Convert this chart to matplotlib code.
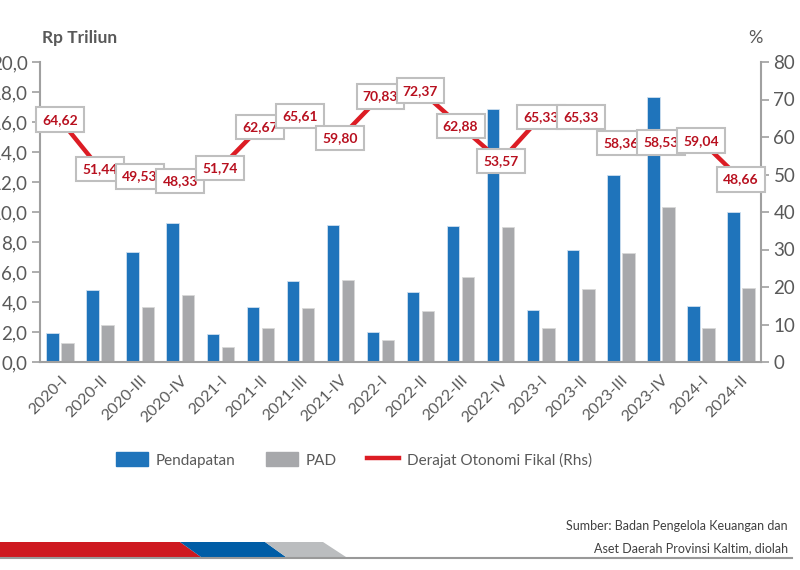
import matplotlib
matplotlib.use("Agg")
import matplotlib.pyplot as plt
import matplotlib.patches as mpatches
from matplotlib.lines import Line2D
import numpy as np

plt.rcParams['font.family'] = ['Lato', 'DejaVu Sans']

categories = ["2020-I", "2020-II", "2020-III", "2020-IV",
              "2021-I", "2021-II", "2021-III", "2021-IV",
              "2022-I", "2022-II", "2022-III", "2022-IV",
              "2023-I", "2023-II", "2023-III", "2023-IV",
              "2024-I", "2024-II"]
pendapatan = [1.91, 4.80, 7.35, 9.29, 1.85, 3.65, 5.42, 9.13, 2.02, 4.69,
              9.05, 16.85, 3.47, 7.49, 12.47, 17.69, 3.75, 10.02]
pad = [1.25, 2.47, 3.65, 4.47, 0.98, 2.29, 3.58, 5.47, 1.45, 3.40,
       5.69, 9.02, 2.25, 4.89, 7.29, 10.35, 2.25, 4.91]
derajat = [64.62, 51.44, 49.53, 48.33, 51.74, 62.67, 65.61, 59.80, 70.83,
           72.37, 62.88, 53.57, 65.33, 65.33, 58.36, 58.53, 59.04, 48.66]
left_ticks = [0, 2, 4, 6, 8, 10, 12, 14, 16, 18, 20]
right_ticks = [0, 10, 20, 30, 40, 50, 60, 70, 80]

BLUE = "#1F74BB"
GRAY = "#A7A8AB"
RED = "#DC1C24"
LABEL_RED = "#B8101F"
AXIS_GRAY = "#A0A0A0"
TEXT_GRAY = "#595959"

fig = plt.figure(figsize=(8, 5.7), dpi=100)
ax = fig.add_axes([40/800, 1-362/570, (761-40)/800, 300/570])
ax2 = ax.twinx()

x = np.arange(len(categories))
w = 0.31
ax.bar(x - 0.187, pendapatan, width=w, color=BLUE, edgecolor="#CFE0F0", linewidth=0.6, zorder=2)
ax.bar(x + 0.19, pad, width=w, color=GRAY, edgecolor="#D8D8D8", linewidth=0.6, zorder=2)

ax.set_xlim(-0.5, len(categories) - 0.5)
ax.set_ylim(0, 20)
ax2.set_ylim(0, 80)
ax.set_yticks(left_ticks)
ax.set_yticklabels([f"{v:.1f}".replace('.', ',') for v in left_ticks])
ax2.set_yticks(right_ticks)
ax2.set_yticklabels([str(v) for v in right_ticks])

ax.set_xticks(x)
ax.set_xticklabels(categories, rotation=45, ha='right', rotation_mode='anchor')
ax.tick_params(axis='x', length=0, pad=8, labelsize=11.5, labelcolor=TEXT_GRAY)
ax.tick_params(axis='y', length=6, width=1.2, color=AXIS_GRAY, labelsize=13.5, labelcolor=TEXT_GRAY, pad=3)
ax2.tick_params(axis='y', length=6, width=1.2, color=AXIS_GRAY, labelsize=13.5, labelcolor=TEXT_GRAY, pad=3)

for a in (ax, ax2):
    a.spines['top'].set_visible(False)
    for s in ('left', 'right', 'bottom'):
        a.spines[s].set_color(AXIS_GRAY)
        a.spines[s].set_linewidth(1.5)
ax.spines['right'].set_visible(False)
ax2.spines['left'].set_visible(False)
ax2.spines['bottom'].set_visible(False)

ax2.plot(x, derajat, color=RED, linewidth=3.2, solid_capstyle='butt', zorder=3)
for xi, v in zip(x, derajat):
    ax2.text(xi, v, f"{v:.2f}".replace('.', ','), ha='center', va='center',
             fontsize=10, fontweight='bold', color=LABEL_RED, zorder=5,
             bbox=dict(boxstyle='square,pad=0.45', facecolor='white',
                       edgecolor='#BFBFBF', linewidth=1.5))

ax.set_zorder(1)
ax2.set_zorder(2)
ax.patch.set_visible(False)

fig.text(42/800, 1-38/570, "Rp Triliun", fontsize=12.5, fontweight='bold',
         color=TEXT_GRAY, ha='left', va='center')
fig.text(755/800, 1-38/570, "%", fontsize=13, color=TEXT_GRAY, ha='center', va='center')

handles = [mpatches.Patch(color=BLUE, label="Pendapatan"),
           mpatches.Patch(color=GRAY, label="PAD"),
           Line2D([0], [0], color=RED, linewidth=3.2, label="Derajat Otonomi Fikal (Rhs)")]
leg = fig.legend(handles=handles, loc='center', bbox_to_anchor=(354/800, 1-460/570),
                 ncol=3, frameon=False, fontsize=11, handlelength=2.1, handleheight=1.0,
                 handletextpad=0.5, columnspacing=2.0)
for t in leg.get_texts():
    t.set_color(TEXT_GRAY)

fig.text(788/800, 1-526/570, "Sumber: Badan Pengelola Keuangan dan", fontsize=9,
         color="#404040", ha='right', va='center')
fig.text(788/800, 1-548/570, "Aset Daerah Provinsi Kaltim, diolah", fontsize=9,
         color="#404040", ha='right', va='center')

# bottom decoration
def fy(py):
    return 1 - py/570
def fx(px):
    return px/800
deco = [
    ([(0, 542), (180, 542), (201, 557), (0, 557)], "#CE1920"),
    ([(180, 542), (265, 542), (286, 557), (201, 557)], "#005DA6"),
    ([(265, 542), (323, 542), (346, 557), (286, 557)], "#BBBDBF"),
]
for pts, c in deco:
    fig.patches.append(mpatches.Polygon([(fx(a), fy(b)) for a, b in pts], closed=True,
                                        facecolor=c, edgecolor='none',
                                        transform=fig.transFigure, figure=fig))
fig.lines.append(Line2D([fx(0), fx(792)], [fy(558), fy(558)], color="#999999",
                        linewidth=1.5, transform=fig.transFigure, figure=fig))

fig.savefig("out.png", dpi=100)
